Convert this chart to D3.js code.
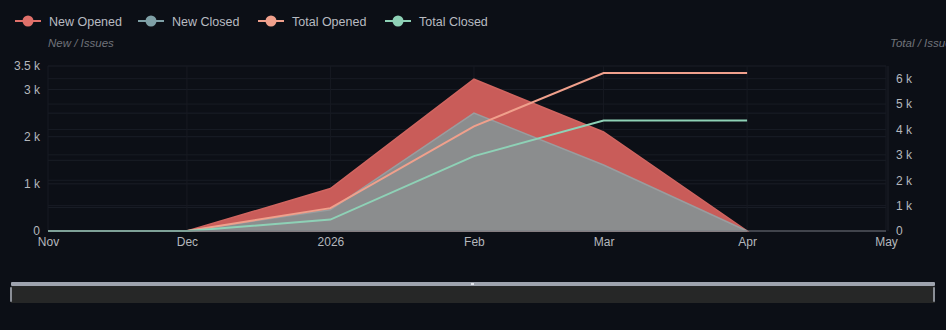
<!DOCTYPE html>
<html><head><meta charset="utf-8">
<script src="https://cdn.jsdelivr.net/npm/d3@7/dist/d3.min.js"></script>
<style>
html,body{margin:0;padding:0;background:#0c0f16;}
svg{display:block;font-family:"Liberation Sans",Arial,sans-serif;}
</style></head>
<body>
<svg id="c" width="946" height="330"></svg>
<script>
const months = ["2025-11-01","2025-12-01","2026-01-01","2026-02-01","2026-03-01","2026-04-01"];
const newOpened = [0, 0, 900, 3220, 2100, 0];
const newClosed = [0, 0, 450, 2500, 1400, 0];
const totalOpened = [0, 0, 900, 4120, 6220, 6220];
const totalClosed = [0, 0, 450, 2950, 4350, 4350];
const leftTicks = [0, 1000, 2000, 3000, 3500];
const rightTicks = [0, 1000, 2000, 3000, 4000, 5000, 6000];
const seriesNames = ["New Opened", "New Closed", "Total Opened", "Total Closed"];
const seriesColors = ["#e0706a", "#7fa0a6", "#f0a08c", "#8ed1b6"];

const svg = d3.select("#c");
const W = 946, H = 330;
svg.append("rect").attr("width", W).attr("height", H).attr("fill", "#0c0f16");
const L = 48, R = 886, T = 66, B = 231;
const parse = d3.utcParse("%Y-%m-%d");
const dates = months.map(parse);
const x = d3.scaleUtc().domain([parse("2025-11-01"), parse("2026-05-01")]).range([L, R]);
const yL = d3.scaleLinear().domain([0, 3500]).range([B, T]);
const yR = d3.scaleLinear().domain([0, 6500]).range([B, T]);

// grid
const g = svg.append("g");
d3.range(0, 3501, 500).forEach(v => g.append("line").attr("x1", L).attr("x2", R).attr("y1", yL(v)).attr("y2", yL(v)).attr("stroke", "#1a1e27").attr("stroke-width", 1));
rightTicks.forEach(v => g.append("line").attr("x1", L).attr("x2", R).attr("y1", yR(v)).attr("y2", yR(v)).attr("stroke", "#181c24").attr("stroke-width", 1));
const xTicks = x.ticks(d3.utcMonth.every(1));
xTicks.forEach(d => g.append("line").attr("x1", x(d)).attr("x2", x(d)).attr("y1", T).attr("y2", B).attr("stroke", "#171a22"));
g.append("line").attr("x1", R + 2).attr("x2", R + 2).attr("y1", T).attr("y2", B).attr("stroke", "#1c2029");

// areas
const areaL = arr => d3.area().x((d, i) => x(dates[i])).y0(yL(0)).y1((d) => yL(d))(arr);
svg.append("path").attr("d", areaL(newOpened)).attr("fill", "#c95c59").attr("stroke", "#d06560").attr("stroke-width", 1.5);
svg.append("path").attr("d", areaL(newClosed)).attr("fill", "#8b8d8e").attr("stroke", "#9a9d9f").attr("stroke-width", 1.5);
// lines
const lineR = d3.line().x((d, i) => x(dates[i])).y(d => yR(d));
svg.append("path").attr("d", lineR(totalOpened)).attr("fill", "none").attr("stroke", seriesColors[2]).attr("stroke-width", 2);
svg.append("path").attr("d", lineR(totalClosed)).attr("fill", "none").attr("stroke", seriesColors[3]).attr("stroke-width", 2);

// axes
const axL = svg.append("g").attr("transform", `translate(${L},0)`).call(d3.axisLeft(yL).tickValues(leftTicks).tickSize(0).tickPadding(8).tickFormat(v => v === 0 ? "0" : (v / 1000) + " k"));
const axR = svg.append("g").attr("transform", `translate(${R},0)`).call(d3.axisRight(yR).tickValues(rightTicks).tickSize(0).tickPadding(10).tickFormat(v => v === 0 ? "0" : (v / 1000) + " k"));
const fmtX = d => d.getUTCMonth() === 0 ? String(d.getUTCFullYear()) : d3.utcFormat("%b")(d);
const axX = svg.append("g").attr("transform", `translate(0,${B})`).call(d3.axisBottom(x).tickValues(xTicks).tickSize(0).tickPadding(6).tickFormat(fmtX));
[axL, axR, axX].forEach(a => {
  a.select(".domain").remove();
  a.selectAll("text").attr("fill", "#b4b7bd").attr("font-size", 12).attr("font-family", "Liberation Sans, Arial, sans-serif");
});
svg.append("line").attr("x1", L).attr("x2", R).attr("y1", B).attr("y2", B).attr("stroke", "#6e7079").attr("stroke-width", 1);

// axis names
svg.append("text").attr("x", 48).attr("y", 47).attr("fill", "#70737a").attr("font-size", 11.5).attr("font-style", "italic").text("New / Issues");
svg.append("text").attr("x", 890).attr("y", 47).attr("fill", "#70737a").attr("font-size", 11.5).attr("font-style", "italic").text("Total / Issues");

// legend
const legX = [15, 138, 258, 385];
seriesNames.forEach((n, i) => {
  const lg = svg.append("g").attr("transform", `translate(${legX[i]},21)`);
  lg.append("line").attr("x1", 0).attr("x2", 26).attr("stroke", seriesColors[i]).attr("stroke-width", 2);
  lg.append("circle").attr("cx", 13).attr("cy", 0).attr("r", 5.5).attr("fill", seriesColors[i]);
  lg.append("text").attr("x", 34).attr("y", 4.5).attr("fill", "#b8bbc1").attr("font-size", 12.5).text(n);
});

// data zoom slider
svg.append("rect").attr("x", 11).attr("y", 286).attr("width", 924).attr("height", 17).attr("fill", "#262727");
svg.append("rect").attr("x", 11).attr("y", 282).attr("width", 924).attr("height", 4).attr("rx", 1).attr("fill", "#9ea3ae");
svg.append("rect").attr("x", 471).attr("y", 283).attr("width", 3).attr("height", 2).attr("fill", "#e0e3ea");
[11, 934].forEach(hx => svg.append("rect").attr("x", hx - 1).attr("y", 287).attr("width", 2).attr("height", 15).attr("rx", 1).attr("fill", "#8a8e96"));
</script>
</body></html>
